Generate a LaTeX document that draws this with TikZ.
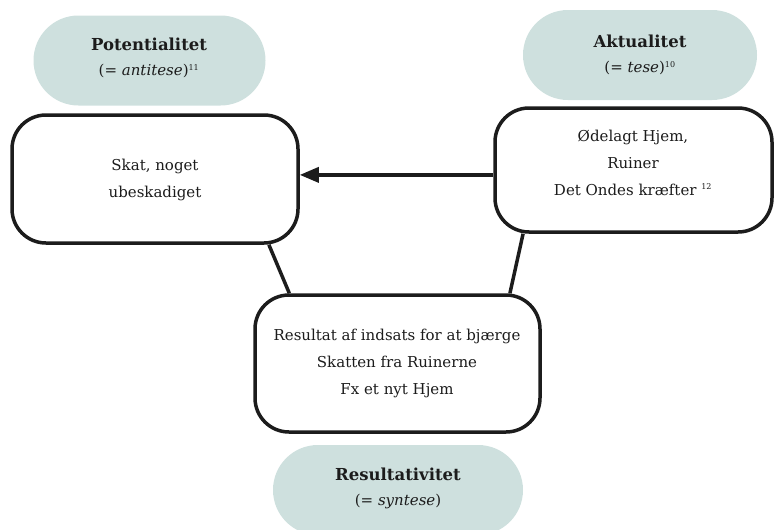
\documentclass[tikz,border=0pt]{standalone}
\usepackage{fontspec}
\setmainfont{DejaVu Serif}
\usetikzlibrary{arrows.meta}
\definecolor{pillc}{RGB}{206,224,222}
\definecolor{inkc}{RGB}{28,28,28}
\begin{document}
\begin{tikzpicture}[x=1pt,y=-1pt,
  pill/.style={fill=pillc, draw=none, rounded corners=44.9pt, minimum height=90pt, inner sep=0pt},
  box/.style={draw=inkc, line width=3.5pt, rounded corners=34pt, fill=white, inner sep=0pt},
  txt/.style={align=center, text=inkc, font=\fontsize{15}{27}\selectfont, inner sep=0pt},
  ptxt/.style={align=center, text=inkc, font=\fontsize{15}{25}\selectfont, inner sep=0pt},
  link/.style={draw=inkc, line width=3.5pt},
  arr/.style={link, -{Triangle[length=19pt,width=15pt]}}]
\useasboundingbox (0,0) rectangle (774,530);
% pills
\node[pill, minimum width=232pt] (ppot) at (149.5,60.5) {};
\node[pill, minimum width=234pt] (pakt) at (640,55) {};
\node[pill, minimum width=250pt] (pres) at (398,490) {};
\node[ptxt] (tpot) at (149,58) {{\fontsize{16.5}{25}\selectfont\bfseries Potentialitet}\\(= \textit{antitese})\textsuperscript{\fontsize{8}{8}\selectfont 11}};
\node[ptxt] (takt) at (640,55) {{\fontsize{16.5}{25}\selectfont\bfseries Aktualitet}\\(= \textit{tese})\textsuperscript{\fontsize{8}{8}\selectfont 10}};
\node[ptxt] (tres) at (398,488) {{\fontsize{16.5}{25}\selectfont\bfseries Resultativitet}\\(= \textit{syntese})};
% boxes
\node[box, minimum width=286pt, minimum height=128pt] (lbox) at (155,179) {};
\node[box, minimum width=277pt, minimum height=124pt] (rbox) at (633.5,170) {};
\node[box, minimum width=285pt, minimum height=137pt] (bbox) at (397.5,363.5) {};
\node[txt] (tl) at (155,180) {Skat, noget\\ubeskadiget};
\node[txt] (tr) at (633,162.5) {Ødelagt Hjem,\\Ruiner\\Det Ondes kræfter \textsuperscript{\fontsize{8}{8}\selectfont 12}};
\node[txt] (tb) at (397,363.5) {Resultat af indsats for at bjærge\\Skatten fra Ruinerne\\Fx et nyt Hjem};
% connectors
\draw[arr] (rbox.182.9) -- (rbox.182.9 -| lbox.east);
\draw[link] (lbox.-30.9) -- (bbox.147.5);
\draw[link] (rbox.210.9) -- (bbox.32);
\end{tikzpicture}
\end{document}
